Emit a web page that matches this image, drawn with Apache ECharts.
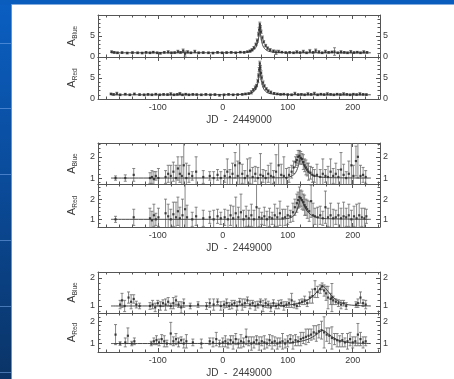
<!DOCTYPE html>
<html>
<head>
<meta charset="utf-8">
<script src="https://cdn.jsdelivr.net/npm/echarts@6/dist/echarts.min.js"></script>
<style>
html,body{margin:0;padding:0;background:#fff}
#c{width:454px;height:379px}
</style>
</head>
<body>
<div id="c"></div>
<script>
// ---- Event 1 (large amplification) ----
const e1BlueDays = [-171,-167,-162,-155,-147,-139,-131,-124,-118,-112,-107,-101,-96,-90,-84,-79,-74,-69,-65,-61,-58,-54,-49,-43,-37,-30,-22,-15,-8,-1,6,13,20,27,33,38,42,45,48,51,53,55,56,57,58,59,61,63,66,69,73,78,82,86,91,97,103,109,114,119,124,129,134,139,143,148,153,158,163,168,172,177,182,187,192,197,202,207,212,217,222];
const e1BlueAmp = [1.25,1.1,1.0,1.05,0.95,1.05,1.0,0.95,1.1,1.0,1.15,1.0,0.9,1.1,1.2,1.0,1.05,1.3,1.1,1.5,0.8,1.2,1.0,1.3,1.0,1.05,1.0,0.95,1.1,1.0,1.05,1.1,1.0,1.15,1.1,1.25,1.4,1.7,2.2,3.0,3.9,5.4,6.5,7.8,7.0,6.0,4.6,3.6,2.7,2.1,1.7,1.4,1.1,1.3,1.15,1.05,1.1,1.0,1.2,1.05,1.3,1.0,1.4,1.1,1.5,1.2,1.0,1.3,1.1,1.2,1.3,1.0,1.2,1.1,1.0,1.25,1.05,1.15,1.0,1.2,1.1];
const e1BlueErr = [0.2,0.2,0.2,0.2,0.2,0.2,0.2,0.2,0.2,0.2,0.2,0.2,0.2,0.2,0.3,0.2,0.2,0.3,0.2,0.4,0.6,0.3,0.2,0.3,0.2,0.2,0.2,0.2,0.2,0.2,0.2,0.2,0.2,0.2,0.2,0.2,0.3,0.3,0.3,0.3,0.4,0.4,0.5,0.5,0.5,0.4,0.4,0.3,0.3,0.3,0.3,0.3,0.5,0.3,0.2,0.2,0.2,0.2,0.3,0.2,0.3,0.2,0.4,0.2,0.4,0.3,0.2,0.3,0.2,0.2,0.9,0.2,0.3,0.2,0.2,0.3,0.2,0.2,0.2,0.3,0.2];
const e1RedDays = [-172,-168,-163,-158,-150,-143,-136,-128,-121,-115,-109,-103,-97,-91,-85,-80,-75,-70,-66,-62,-57,-52,-46,-40,-33,-26,-19,-12,-5,2,9,16,23,30,35,40,44,47,50,52,54,55,56,57,58,59,60,62,64,67,70,74,79,84,89,94,100,106,111,116,121,126,131,136,141,146,151,156,161,166,171,176,181,186,191,196,201,206,211,216,221];
const e1RedAmp = [1.2,1.1,1.3,1.0,1.15,1.0,1.2,1.05,1.0,1.1,1.0,1.15,1.0,1.1,1.05,1.2,1.0,1.1,1.25,1.0,1.15,1.0,1.1,1.05,1.0,1.1,1.0,1.05,0.9,1.0,1.1,1.0,1.05,1.1,1.2,1.3,1.6,2.2,2.7,3.2,4.3,5.6,7.0,8.5,7.5,6.2,5.1,3.9,3.1,2.4,1.9,1.6,1.35,1.2,1.1,1.15,1.05,1.0,1.3,1.05,1.1,1.0,1.2,1.1,1.3,1.0,1.15,1.05,1.2,1.1,1.0,1.15,1.05,1.2,1.1,1.0,1.15,1.05,1.2,1.1,1.05];
const e1RedErr = [0.2,0.2,0.3,0.2,0.2,0.2,0.2,0.2,0.2,0.2,0.2,0.2,0.2,0.2,0.2,0.3,0.2,0.2,0.3,0.2,0.2,0.2,0.2,0.2,0.2,0.2,0.2,0.2,0.2,0.2,0.2,0.2,0.2,0.2,0.2,0.2,0.4,0.3,0.4,0.3,0.4,0.4,0.5,0.5,0.5,0.5,0.4,0.4,0.3,0.3,0.3,0.3,0.2,0.2,0.2,0.2,0.2,0.2,0.3,0.2,0.2,0.2,0.3,0.2,0.3,0.2,0.2,0.2,0.3,0.2,0.2,0.2,0.2,0.3,0.2,0.2,0.2,0.2,0.3,0.2,0.2];
const e1FitDays = [-172,0,20,30,38,44,48,51,53,55,56,57,58,59,61,63,66,70,76,84,95,115,228];
const e1FitBlue = [1,1.02,1.05,1.1,1.2,1.4,1.75,2.3,3.0,4.3,5.6,7.9,5.6,4.3,3.0,2.3,1.75,1.4,1.2,1.1,1.05,1.02,1];
const e1FitRed = [1,1.02,1.05,1.1,1.2,1.4,1.8,2.4,3.2,4.6,6.0,8.5,6.0,4.6,3.2,2.4,1.8,1.4,1.2,1.1,1.05,1.02,1];

// ---- Event 2 ----
const e2BlueDays = [-165,-150,-137,-112,-109,-106,-103,-99,-88,-84,-80,-76,-72,-69,-66,-63,-60,-56,-52,-47,-41,-30,-20,-14,-8,-3,3,7,11,15,19,23,26,30,34,38,42,46,50,54,58,62,66,70,74,78,82,86,90,94,98,102,106,109,112,114,116,118,120,122,124,126,128,130,132,135,138,141,145,150,154,158,162,166,170,174,178,182,186,190,194,198,201,205,208,212,216,220];
const e2BlueAmp = [1.0,1.0,1.15,1.0,1.05,0.95,1.1,1.0,1.05,1.2,1.1,1.3,1.0,1.45,1.2,1.1,1.6,1.0,1.2,1.1,1.3,1.05,1.1,1.0,1.15,1.0,1.1,1.3,1.05,1.2,1.6,1.1,1.7,1.2,1.0,1.1,1.35,1.05,1.2,1.0,1.15,1.1,1.0,1.2,1.1,1.05,1.3,1.6,1.15,1.1,1.0,1.15,1.3,1.5,1.75,1.85,2.0,2.05,1.95,1.9,1.75,1.6,1.5,1.4,1.3,1.25,1.15,1.1,1.15,1.05,1.2,1.1,1.05,1.3,1.1,1.2,1.05,1.4,1.15,1.0,1.2,1.6,1.1,1.8,2.0,1.1,1.15,1.05];
const e2BlueErr = [0.1,0.15,0.3,0.25,0.3,0.35,0.2,0.45,0.3,0.4,0.5,0.45,0.6,0.55,0.4,0.9,1.1,0.7,0.4,0.2,0.7,0.3,0.2,0.3,0.25,0.3,0.3,0.6,0.35,0.5,0.6,0.7,1.1,0.45,0.35,0.8,0.6,0.45,0.35,0.5,1.0,0.3,0.35,0.4,0.6,0.3,0.8,1.1,0.5,0.9,0.45,0.35,0.3,0.3,0.25,0.25,0.3,0.25,0.3,0.25,0.35,0.3,0.35,0.3,0.4,0.3,0.35,0.3,0.5,0.35,0.7,0.3,0.5,0.6,0.35,0.5,0.35,0.8,0.5,0.3,0.6,1.3,0.5,0.7,1.0,0.5,0.35,0.3];
const e2RedDays = [-165,-137,-112,-109,-106,-103,-99,-88,-84,-80,-76,-72,-69,-66,-62,-58,-55,-47,-41,-30,-20,-14,-8,-3,3,8,12,16,20,24,28,32,36,40,44,48,52,56,60,64,68,72,76,80,84,88,92,96,100,104,108,111,114,116,118,120,122,124,126,128,130,133,136,139,142,146,150,154,158,162,166,170,174,178,182,186,190,194,198,202,206,210,214,218,221];
const e2RedAmp = [1.0,1.1,1.05,0.95,1.2,1.0,1.1,1.3,1.15,1.0,1.25,1.1,1.4,1.05,1.2,1.5,1.1,1.0,1.15,1.05,1.1,1.0,1.15,1.05,1.1,1.0,1.2,1.05,1.3,1.1,1.35,1.0,1.15,1.05,1.2,1.0,1.6,1.1,1.05,1.15,1.0,1.1,1.05,1.2,1.1,1.3,1.05,1.1,1.2,1.15,1.35,1.6,1.8,1.95,2.1,2.05,1.95,1.85,1.7,1.6,1.5,1.4,1.9,1.2,1.15,1.1,1.2,1.05,1.6,1.1,1.2,1.05,1.1,1.2,1.05,1.15,1.1,1.2,1.0,1.15,1.05,1.2,1.1,1.05,1.15];
const e2RedErr = [0.15,0.4,0.5,0.45,0.55,0.3,0.45,0.7,0.6,0.5,0.6,0.75,0.7,0.55,0.8,1.3,0.6,0.35,0.45,0.4,0.3,0.45,0.35,0.3,0.4,0.45,0.5,0.6,0.8,0.5,0.9,0.45,0.5,0.4,0.55,0.45,1.3,0.45,0.3,0.45,0.4,0.45,0.3,0.55,0.45,0.6,0.45,0.4,0.45,0.3,0.45,0.4,0.45,0.4,0.5,0.4,0.45,0.4,0.5,0.4,0.45,0.5,0.8,0.6,0.4,0.5,0.45,0.35,0.8,0.45,0.6,0.45,0.35,0.6,0.5,0.7,0.45,0.55,0.45,0.5,0.7,0.6,0.45,0.5,0.35];
const e2FitDays = [-172,90,100,105,109,112,115,118,120,122,125,128,132,137,143,150,160,228];
const e2FitBlue = [1,1.01,1.04,1.08,1.15,1.25,1.45,1.75,1.95,1.82,1.6,1.42,1.27,1.16,1.09,1.05,1.02,1];
const e2FitRed = [1,1.01,1.04,1.09,1.17,1.3,1.52,1.85,2.05,1.92,1.7,1.5,1.33,1.2,1.11,1.06,1.03,1];

// ---- Event 3 ----
const e3BlueDays = [-158,-155,-151,-145,-141,-137,-133,-128,-112,-108,-104,-100,-96,-92,-88,-84,-80,-76,-72,-68,-64,-60,-50,-38,-25,-20,-14,-8,-3,2,6,10,14,18,22,26,30,34,38,42,46,50,54,58,62,66,70,74,78,82,86,90,94,98,102,106,110,114,118,122,126,130,134,138,142,146,150,153,156,159,162,166,168,170,174,178,182,186,190,205,208,212,216,220];
const e3BlueAmp = [1.05,1.2,1.0,1.3,1.15,1.25,1.05,1.0,1.0,1.05,0.95,1.1,1.0,1.1,1.05,1.15,1.0,1.1,1.2,1.05,0.95,1.1,1.0,1.05,1.0,1.1,1.05,1.15,1.0,1.05,1.1,1.0,1.05,1.1,1.0,1.15,1.05,1.1,1.2,1.05,1.1,1.0,1.05,1.15,1.0,1.1,1.05,0.95,1.1,1.0,1.05,1.1,1.0,1.05,1.1,1.2,1.05,1.0,1.1,1.15,1.2,1.1,1.3,1.35,1.6,1.5,1.6,1.7,1.55,1.45,1.3,1.25,1.3,1.2,1.15,1.1,1.05,1.1,1.0,1.05,1.1,1.3,1.1,1.05];
const e3BlueErr = [0.15,0.25,0.2,0.2,0.25,0.15,0.12,0.1,0.12,0.15,0.15,0.1,0.15,0.12,0.2,0.15,0.1,0.2,0.15,0.1,0.2,0.15,0.1,0.1,0.12,0.15,0.2,0.1,0.15,0.12,0.15,0.12,0.15,0.1,0.15,0.12,0.2,0.15,0.12,0.15,0.1,0.15,0.12,0.1,0.2,0.15,0.12,0.15,0.12,0.1,0.15,0.12,0.15,0.1,0.15,0.25,0.12,0.1,0.12,0.1,0.15,0.12,0.2,0.25,0.3,0.2,0.15,0.12,0.2,0.25,0.4,0.2,0.5,0.15,0.1,0.12,0.15,0.1,0.12,0.1,0.15,0.2,0.12,0.15];
const e3RedDays = [-165,-158,-150,-146,-140,-136,-110,-106,-102,-98,-94,-90,-86,-80,-76,-72,-68,-64,-60,-56,-46,-33,-20,-15,-10,-5,0,4,8,12,16,20,24,28,32,36,40,44,48,52,56,60,64,68,72,76,80,84,88,92,96,100,104,108,112,116,120,124,128,132,136,140,144,148,152,156,160,164,168,172,176,180,184,188,192,196,200,204,208,212,216,220];
const e3RedAmp = [1.4,1.0,1.05,1.35,1.0,1.1,1.0,1.1,1.15,1.05,1.2,1.1,1.0,1.45,1.1,1.2,1.05,1.15,1.0,1.1,1.05,1.0,1.1,1.05,1.2,1.0,1.05,1.1,1.0,1.15,1.05,1.2,1.0,1.1,1.05,1.3,1.1,1.0,1.05,1.15,1.0,1.1,1.05,1.0,1.15,1.05,1.1,1.0,1.05,1.1,1.0,1.1,1.2,1.05,1.15,1.1,1.2,1.25,1.3,1.35,1.4,1.5,1.45,1.55,1.6,1.5,1.4,1.35,1.25,1.2,1.15,1.1,1.15,1.05,1.1,1.2,1.05,1.1,1.4,1.2,1.05,1.1];
const e3RedErr = [0.45,0.08,0.2,0.35,0.1,0.15,0.1,0.15,0.2,0.15,0.2,0.25,0.15,0.5,0.2,0.25,0.2,0.15,0.2,0.3,0.15,0.2,0.15,0.2,0.3,0.15,0.2,0.25,0.2,0.2,0.3,0.25,0.2,0.3,0.2,0.35,0.2,0.3,0.25,0.2,0.3,0.2,0.3,0.2,0.25,0.3,0.2,0.25,0.2,0.35,0.2,0.25,0.2,0.3,0.25,0.2,0.3,0.25,0.35,0.3,0.25,0.3,0.35,0.3,0.4,0.7,0.3,0.35,0.5,0.25,0.3,0.25,0.3,0.2,0.35,0.3,0.25,0.2,0.5,0.3,0.25,0.2];
const e3FitDays = [-172,80,100,110,120,128,135,141,146,150,154,158,162,167,173,180,188,198,228];
const e3FitBlue = [1,1.01,1.03,1.06,1.11,1.18,1.28,1.4,1.53,1.63,1.7,1.63,1.52,1.38,1.25,1.14,1.07,1.03,1];
const e3FitRed = [1,1.01,1.03,1.05,1.1,1.16,1.24,1.34,1.45,1.53,1.59,1.53,1.44,1.33,1.22,1.13,1.07,1.03,1];

// Axis ticks and labels
const dayLabels = [-100, 0, 100, 200];
const bigAmpLabels = [0, 5];
const smallAmpLabels = [1, 2];

const X_MIN = -192, X_MAX = 242;
const FONT = 'Liberation Sans';
const INK = '#3a3a3a';

// panel frames (px) and amplification ranges
const panels = [
  {top: 15,  h: 42, ymin: 0,    ymax: 10,   labels: bigAmpLabels,   minorStep: 1,   band: 'Blue', d: e1BlueDays, a: e1BlueAmp, e: e1BlueErr, fd: e1FitDays, fa: e1FitBlue, xl: false},
  {top: 57,  h: 42, ymin: 0,    ymax: 10,   labels: bigAmpLabels,   minorStep: 1,   band: 'Red',  d: e1RedDays,  a: e1RedAmp,  e: e1RedErr,  fd: e1FitDays, fa: e1FitRed,  xl: true},
  {top: 143, h: 41, ymin: 0.72, ymax: 2.65, labels: smallAmpLabels, minorStep: 0.2, band: 'Blue', d: e2BlueDays, a: e2BlueAmp, e: e2BlueErr, fd: e2FitDays, fa: e2FitBlue, xl: false},
  {top: 184, h: 43, ymin: 0.62, ymax: 2.75, labels: smallAmpLabels, minorStep: 0.2, band: 'Red',  d: e2RedDays,  a: e2RedAmp,  e: e2RedErr,  fd: e2FitDays, fa: e2FitRed,  xl: true},
  {top: 272, h: 41, ymin: 0.75, ymax: 2.21, labels: smallAmpLabels, minorStep: 0.2, band: 'Blue', d: e3BlueDays, a: e3BlueAmp, e: e3BlueErr, fd: e3FitDays, fa: e3FitBlue, xl: false},
  {top: 313, h: 42, ymin: 0.62, ymax: 2.37, labels: smallAmpLabels, minorStep: 0.2, band: 'Red',  d: e3RedDays,  a: e3RedAmp,  e: e3RedErr,  fd: e3FitDays, fa: e3FitRed,  xl: true}
];

function stepsBetween(lo, hi, step, skip) {
  const out = [];
  for (let k = Math.ceil(lo / step - 1e-9); k * step <= hi + 1e-9; k++) {
    const v = +(k * step).toFixed(4);
    if (!skip.some(s => Math.abs(s - v) < 1e-6)) out.push(v);
  }
  return out;
}
const dayMinor = stepsBetween(X_MIN, X_MAX, 20, dayLabels);

const lineStyle = {color: '#555', width: 1};
const grids = [], xAxes = [], yAxes = [], series = [];

panels.forEach((p, i) => {
  grids.push({left: 98, width: 282, top: p.top, height: p.h});
  const base = {type: 'value', gridIndex: i, min: X_MIN, max: X_MAX, splitLine: {show: false}};
  // bottom edge: labels + long ticks
  xAxes.push(Object.assign({}, base, {
    position: 'bottom',
    axisLine: {show: true, onZero: false, lineStyle},
    axisTick: {show: true, inside: true, length: 4, customValues: dayLabels, lineStyle},
    axisLabel: {show: p.xl, customValues: dayLabels, margin: 4, fontFamily: FONT, fontSize: 9, color: INK},
    name: p.xl ? 'JD  -  2449000' : '', nameLocation: 'middle', nameGap: 16,
    nameTextStyle: {fontFamily: FONT, fontSize: 10, color: INK}
  }));
  // top edge
  xAxes.push(Object.assign({}, base, {
    position: 'top',
    axisLine: {show: true, onZero: false, lineStyle},
    axisTick: {show: true, inside: true, length: 4, customValues: dayLabels, lineStyle},
    axisLabel: {show: false}
  }));
  // short ticks, bottom and top
  ['bottom', 'top'].forEach(pos => xAxes.push(Object.assign({}, base, {
    position: pos,
    axisLine: {show: false, onZero: false},
    axisTick: {show: true, inside: true, length: 2.5, customValues: dayMinor, lineStyle},
    axisLabel: {show: false}
  })));

  const ybase = {type: 'value', gridIndex: i, min: p.ymin, max: p.ymax, splitLine: {show: false}};
  const yMinor = stepsBetween(p.ymin, p.ymax, p.minorStep, p.labels);
  yAxes.push(Object.assign({}, ybase, {
    position: 'left',
    axisLine: {show: true, onZero: false, lineStyle},
    axisTick: {show: true, inside: true, length: 4, customValues: p.labels, lineStyle},
    axisLabel: {show: true, customValues: p.labels, margin: 3, fontFamily: FONT, fontSize: 9, color: INK},
    name: '{a|A}{s|' + p.band + '}', nameLocation: 'middle', nameGap: 10, nameRotate: 90,
    nameTextStyle: {rich: {
      a: {fontFamily: FONT, fontSize: 11, color: INK, lineHeight: 13, verticalAlign: 'bottom'},
      s: {fontFamily: FONT, fontSize: 6.5, color: INK, lineHeight: 13, verticalAlign: 'bottom', padding: [0, 0, -2, 0]}
    }}
  }));
  yAxes.push(Object.assign({}, ybase, {
    position: 'right',
    axisLine: {show: true, onZero: false, lineStyle},
    axisTick: {show: true, inside: true, length: 4, customValues: p.labels, lineStyle},
    axisLabel: {show: true, customValues: p.labels, margin: 3, fontFamily: FONT, fontSize: 9, color: INK}
  }));
  ['left', 'right'].forEach(pos => yAxes.push(Object.assign({}, ybase, {
    position: pos,
    axisLine: {show: false, onZero: false},
    axisTick: {show: true, inside: true, length: 2.5, customValues: yMinor, lineStyle},
    axisLabel: {show: false}
  })));

  const xi = i * 4, yi = i * 4;
  // error bars with small caps, kept inside the frame
  series.push({
    type: 'custom', xAxisIndex: xi, yAxisIndex: yi, silent: true,
    data: p.d.map((t, k) => [t, p.a[k] - p.e[k], p.a[k] + p.e[k]]),
    renderItem: (params, api) => {
      const cs = params.coordSys;
      const lo = api.coord([api.value(0), api.value(1)]);
      const hi = api.coord([api.value(0), api.value(2)]);
      const yTop = cs.y, yBot = cs.y + cs.height;
      const y1 = Math.min(Math.max(lo[1], yTop), yBot);
      const y2 = Math.min(Math.max(hi[1], yTop), yBot);
      const x = lo[0];
      const st = {stroke: '#6a6a6a', lineWidth: 0.8};
      const kids = [{type: 'line', shape: {x1: x, y1: y1, x2: x, y2: y2}, style: st}];
      if (lo[1] <= yBot) kids.push({type: 'line', shape: {x1: x - 1.5, y1: lo[1], x2: x + 1.5, y2: lo[1]}, style: st});
      if (hi[1] >= yTop) kids.push({type: 'line', shape: {x1: x - 1.5, y1: hi[1], x2: x + 1.5, y2: hi[1]}, style: st});
      return {type: 'group', children: kids};
    }
  });
  // model light curve
  series.push({
    type: 'line', xAxisIndex: xi, yAxisIndex: yi, silent: true,
    data: p.fd.map((t, k) => [t, p.fa[k]]),
    showSymbol: false, symbol: 'none', smooth: 0.35,
    lineStyle: {color: '#333', width: 0.9}
  });
  // measurements
  series.push({
    type: 'scatter', xAxisIndex: xi, yAxisIndex: yi, silent: true,
    data: p.d.map((t, k) => [t, p.a[k]]),
    symbol: 'rect', symbolSize: 2.2,
    itemStyle: {color: '#1e1e1e'}
  });
});

// slide backdrop: blue edge strips
const stripeLines = [43, 108, 174, 240, 306, 372].map(y => ({
  type: 'line', shape: {x1: 0, y1: y + 0.5, x2: 11, y2: y + 0.5},
  style: {stroke: 'rgba(120,170,235,0.55)', lineWidth: 1}, silent: true
}));

const chart = echarts.init(document.getElementById('c'), null, {renderer: 'canvas'});
chart.setOption({
  animation: false,
  backgroundColor: '#ffffff',
  grid: grids,
  xAxis: xAxes,
  yAxis: yAxes,
  series: series,
  graphic: [
    {type: 'rect', shape: {x: 0, y: 0, width: 11, height: 379}, silent: true,
     style: {fill: new echarts.graphic.LinearGradient(0, 0, 0, 1, [
       {offset: 0, color: '#0a5fc2'}, {offset: 0.5, color: '#0a4a98'}, {offset: 1, color: '#0a3467'}])}},
    {type: 'rect', shape: {x: 0, y: 0, width: 454, height: 4.5}, silent: true, style: {fill: '#0a5cbd'}},
    {type: 'line', shape: {x1: 11.5, y1: 4, x2: 11.5, y2: 379}, silent: true, style: {stroke: '#5b95d8', lineWidth: 1}},
    ...stripeLines
  ]
});
</script>
</body>
</html>
